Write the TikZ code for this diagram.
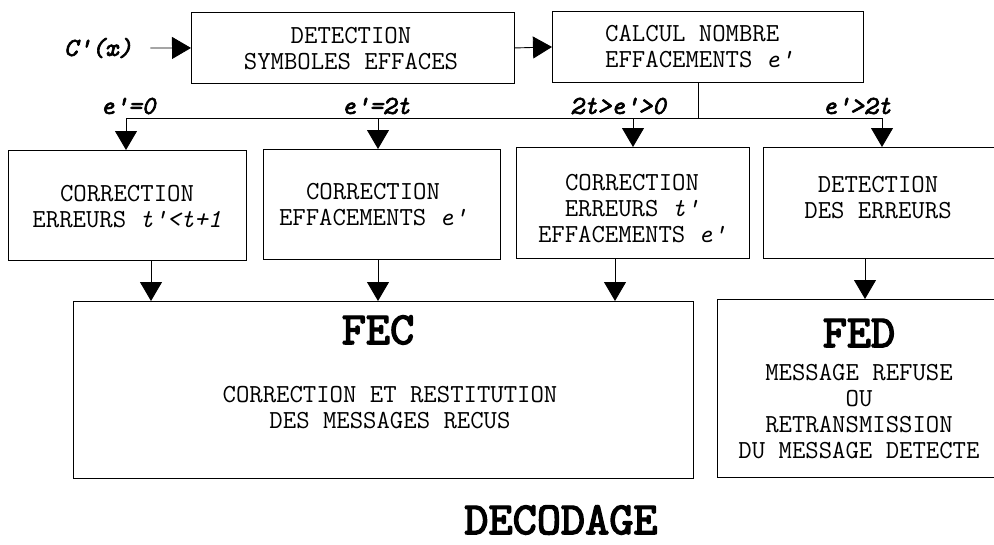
\documentclass[tikz,border=0pt]{standalone}
\usepackage{fontspec}
\newfontfamily\lmbold{lmmono10-regular.otf}[FakeBold=3]
\newfontfamily\lmboldit{lmmono10-italic.otf}[FakeBold=2.5]
\usetikzlibrary{arrows.meta}
\begin{document}
\begin{tikzpicture}[x=1pt,y=-1pt,
  box/.style={draw, line width=0.9pt, inner sep=0pt, anchor=north west},
  txt/.style={font=\ttfamily\fontsize{26}{26}\selectfont, align=center, inner sep=0pt},
  lab/.style={font=\lmboldit\fontsize{26}{26}\selectfont, inner sep=0pt},
  big/.style={font=\lmbold\fontsize{46}{48}\selectfont, inner sep=0pt},
  arr/.style={line width=0.9pt, -{Triangle[width=22pt,length=19pt]}},
  ln/.style={line width=0.9pt}]
\useasboundingbox (0,0) rectangle (994,544);
\fill[white] (0,0) rectangle (994,544);
% boxes
\node[box, minimum width=323pt, minimum height=71pt] (det) at (191,12) {};
\node[box, minimum width=311pt, minimum height=71pt] (cal) at (552,11) {};
\node[box, minimum width=238pt, minimum height=110pt] (b1) at (8,150) {};
\node[box, minimum width=237pt, minimum height=110pt] (b2) at (263,149) {};
\node[box, minimum width=233pt, minimum height=111pt] (b3) at (516,147) {};
\node[box, minimum width=240pt, minimum height=111pt] (b4) at (763,147) {};
\node[box, minimum width=620pt, minimum height=177pt] (fec) at (73,301) {};
\node[box, minimum width=290pt, minimum height=178pt] (fed) at (717,299) {};
% texts
\node[txt] (dett) at (351,49) {DETECTION\\SYMBOLES EFFACES};
\node[txt, anchor=west, align=left] (calt) at (605,46.5) {CALCUL NOMBRE\\EFFACEMENTS \textit{e\textquotesingle}};
\node[txt] (b1t) at (127,206.5) {CORRECTION\\ERREURS \textit{t\textquotesingle<t+1}};
\node[txt] (b2t) at (373,205) {CORRECTION\\EFFACEMENTS \textit{e\textquotesingle}};
\node[txt] (b3t) at (632,209) {CORRECTION\\ERREURS \textit{t\textquotesingle}\\EFFACEMENTS \textit{e\textquotesingle}};
\node[txt] (b4t) at (878,197.5) {DETECTION\\DES ERREURS};
\node[big] (fect) at (378,330) {FEC};
\node[txt] (fecd) at (390,407.5) {CORRECTION ET RESTITUTION\\DES MESSAGES RECUS};
\node[big] (fedt) at (859,333) {FED};
\node[txt] (fedd) at (859,412) {MESSAGE REFUSE\\OU\\RETRANSMISSION\\DU MESSAGE DETECTE};
\node[big] (deco) at (561,520) {DECODAGE};
% labels
\node[lab] (cx) at (98,48) {C\textquotesingle(x)};
\node[lab] (l1) at (128,106) {e\textquotesingle=0};
\node[lab] (l2) at (376,106) {e\textquotesingle=2t};
\node[lab] (l3) at (618,106) {2t>e\textquotesingle>0};
\node[lab] (l4) at (857,106) {e\textquotesingle>2t};
% coordinates
\coordinate (j) at (698,118);
\coordinate (a1) at (126,118);
\coordinate (a2) at (378,118);
\coordinate (a3) at (633,118);
\coordinate (a4) at (882,118);
\coordinate (d1) at (151,0);
\coordinate (d2) at (378,0);
\coordinate (d3) at (615,0);
\coordinate (d4) at (865,0);
% connectors
\draw[arr, shorten <=18pt] (cx.east) -- (det.west);
\draw[arr] (det.east) -- (cal.west);
\draw[ln] (cal.south -| j) -- (j);
\draw[ln] (a1) -- (a4);
\draw[arr] (a1) -- (a1 |- b1.north);
\draw[arr] (a2) -- (a2 |- b2.north);
\draw[arr] (a3) -- (a3 |- b3.north);
\draw[arr] (a4) -- (a4 |- b4.north);
\draw[arr] (d1 |- b1.south) -- (d1 |- fec.north);
\draw[arr] (d2 |- b2.south) -- (d2 |- fec.north);
\draw[arr] (d3 |- b3.south) -- (d3 |- fec.north);
\draw[arr] (d4 |- b4.south) -- (d4 |- fed.north);
\end{tikzpicture}
\end{document}
